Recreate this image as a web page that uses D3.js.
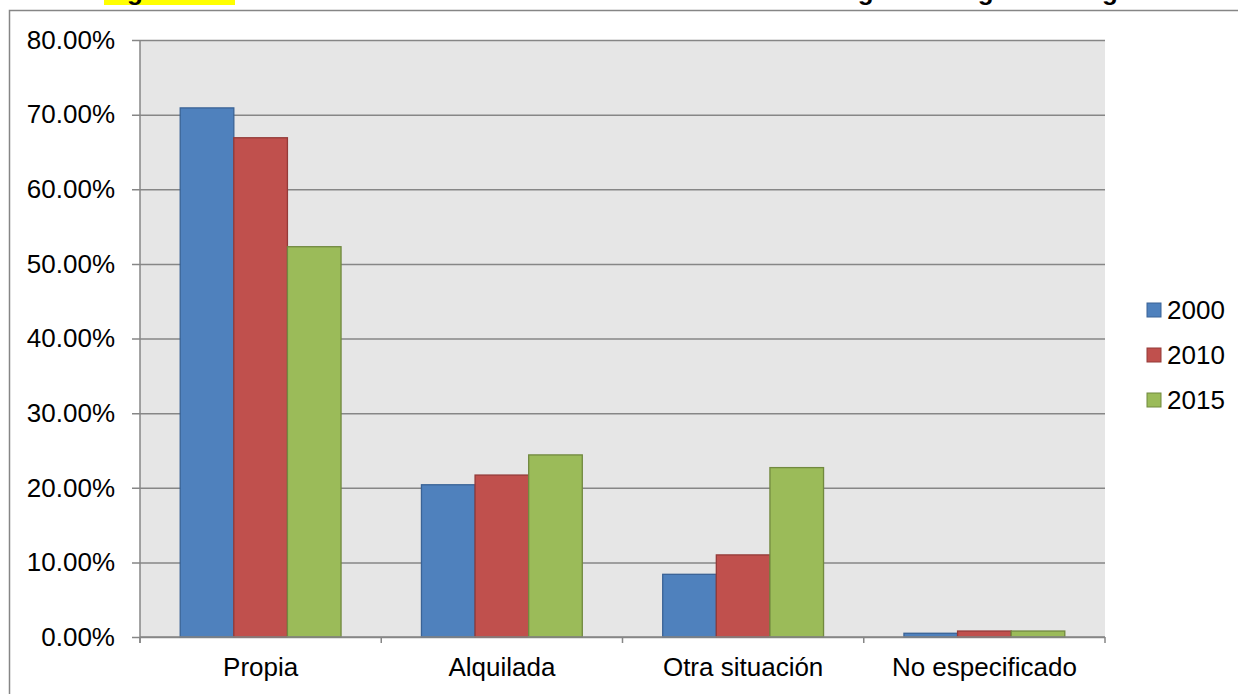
<!DOCTYPE html>
<html>
<head>
<meta charset="utf-8">
<script src="https://cdn.jsdelivr.net/npm/d3@7"></script>
<style>
  body { margin: 0; background: #fff; }
  svg { display: block; font-family: "Liberation Sans", Arial, sans-serif; }
</style>
</head>
<body>
<svg id="chart" width="1238" height="694"></svg>
<script>
const categories = ['Propia', 'Alquilada', 'Otra situación', 'No especificado'];
const years = ['2000', '2010', '2015'];
const v2000 = [0.709, 0.204, 0.084, 0.005];
const v2010 = [0.669, 0.217, 0.110, 0.008];
const v2015 = [0.523, 0.244, 0.227, 0.008];
const yTicks = [0, 0.1, 0.2, 0.3, 0.4, 0.5, 0.6, 0.7, 0.8];
const colors = ['#4F81BD', '#C0504D', '#9BBB59'];
const strokes = ['#3A6396', '#943A38', '#71893F'];

const series = [v2000, v2010, v2015];
const svg = d3.select('#chart');
const margin = { top: 40, left: 140, right: 133, bottom: 57 };
const width = 1238, height = 694;
const innerWidth = width - margin.left - margin.right;
const innerHeight = height - margin.top - margin.bottom;
const fs = 26;

// title (cut off at the top of the picture)
svg.append('rect')
  .attr('x', 104).attr('y', -10).attr('width', 131).attr('height', 15)
  .attr('fill', '#FFFF00');
svg.append('text')
  .attr('x', 104).attr('y', 0)
  .attr('font-weight', 'bold').attr('font-size', 26)
  .text('Figura 3.12 Tendencia de la tenencia de la vivienda en la delegación Miguel Hidalgo');

// outer chart border
svg.append('rect')
  .attr('x', 9.5).attr('y', 10.5).attr('width', 1300).attr('height', 800)
  .attr('fill', 'none').attr('stroke', '#868686').attr('stroke-width', 1.5);

const x0 = d3.scaleBand().domain(categories).range([0, innerWidth]).paddingInner(0).paddingOuter(0);
const bw = x0.bandwidth() / 4.5;
const x1 = d3.scaleBand().domain(years).range([bw * 0.75, bw * 3.75]);
const y = d3.scaleLinear().domain([0, 0.8]).range([innerHeight, 0]);

const g = svg.append('g').attr('transform', 'translate(' + margin.left + ',' + margin.top + ')');

g.append('rect')
  .attr('width', innerWidth).attr('height', innerHeight)
  .attr('fill', '#E6E6E6');

// gridlines + y axis
const yAxis = d3.axisLeft(y).tickValues(yTicks)
  .tickFormat(d => (d * 100).toFixed(2) + '%')
  .tickSize(-innerWidth - 8).tickPadding(17);
const ya = g.append('g').attr('transform', 'translate(-8,0)').call(yAxis);
ya.select('.domain').remove();
ya.selectAll('.tick line').attr('stroke', '#868686').attr('stroke-width', 1.5);
ya.selectAll('.tick text').attr('font-size', fs).attr('fill', '#000')
  .attr('font-family', '"Liberation Sans", Arial, sans-serif');

g.append('line')
  .attr('x1', 0).attr('x2', 0).attr('y1', 0).attr('y2', innerHeight + 6)
  .attr('stroke', '#868686').attr('stroke-width', 1.5);

// bars
categories.forEach((c, i) => {
  const grp = g.append('g').attr('transform', 'translate(' + x0(c) + ',0)');
  years.forEach((yr, k) => {
    grp.append('rect')
      .attr('x', x1(yr))
      .attr('y', y(series[k][i]))
      .attr('width', x1.bandwidth())
      .attr('height', innerHeight - y(series[k][i]))
      .attr('fill', colors[k])
      .attr('stroke', strokes[k])
      .attr('stroke-width', 1.3);
  });
});

// x axis
const xAxis = d3.axisBottom(x0).tickSize(0).tickPadding(21);
const xa = g.append('g').attr('transform', 'translate(0,' + innerHeight + ')').call(xAxis);
xa.select('.domain').remove();
xa.selectAll('.tick text').attr('font-size', fs).attr('fill', '#000')
  .attr('font-family', '"Liberation Sans", Arial, sans-serif');
g.append('line')
  .attr('x1', 0).attr('x2', innerWidth).attr('y1', innerHeight).attr('y2', innerHeight)
  .attr('stroke', '#868686').attr('stroke-width', 1.5);
g.selectAll('.cat-tick')
  .data(categories.map(c => x0(c)).concat([innerWidth]))
  .enter().append('line')
  .attr('x1', d => d).attr('x2', d => d)
  .attr('y1', innerHeight).attr('y2', innerHeight + 6)
  .attr('stroke', '#868686').attr('stroke-width', 1.5);

// legend
const legend = svg.append('g').attr('transform', 'translate(1147,0)');
years.forEach((yr, k) => {
  const ly = 310 + k * 45;
  legend.append('rect')
    .attr('x', 0).attr('y', ly - 7).attr('width', 14).attr('height', 14)
    .attr('fill', colors[k]).attr('stroke', strokes[k]);
  legend.append('text')
    .attr('x', 20).attr('y', ly + 9)
    .attr('font-size', fs)
    .text(yr);
});
</script>
</body>
</html>
